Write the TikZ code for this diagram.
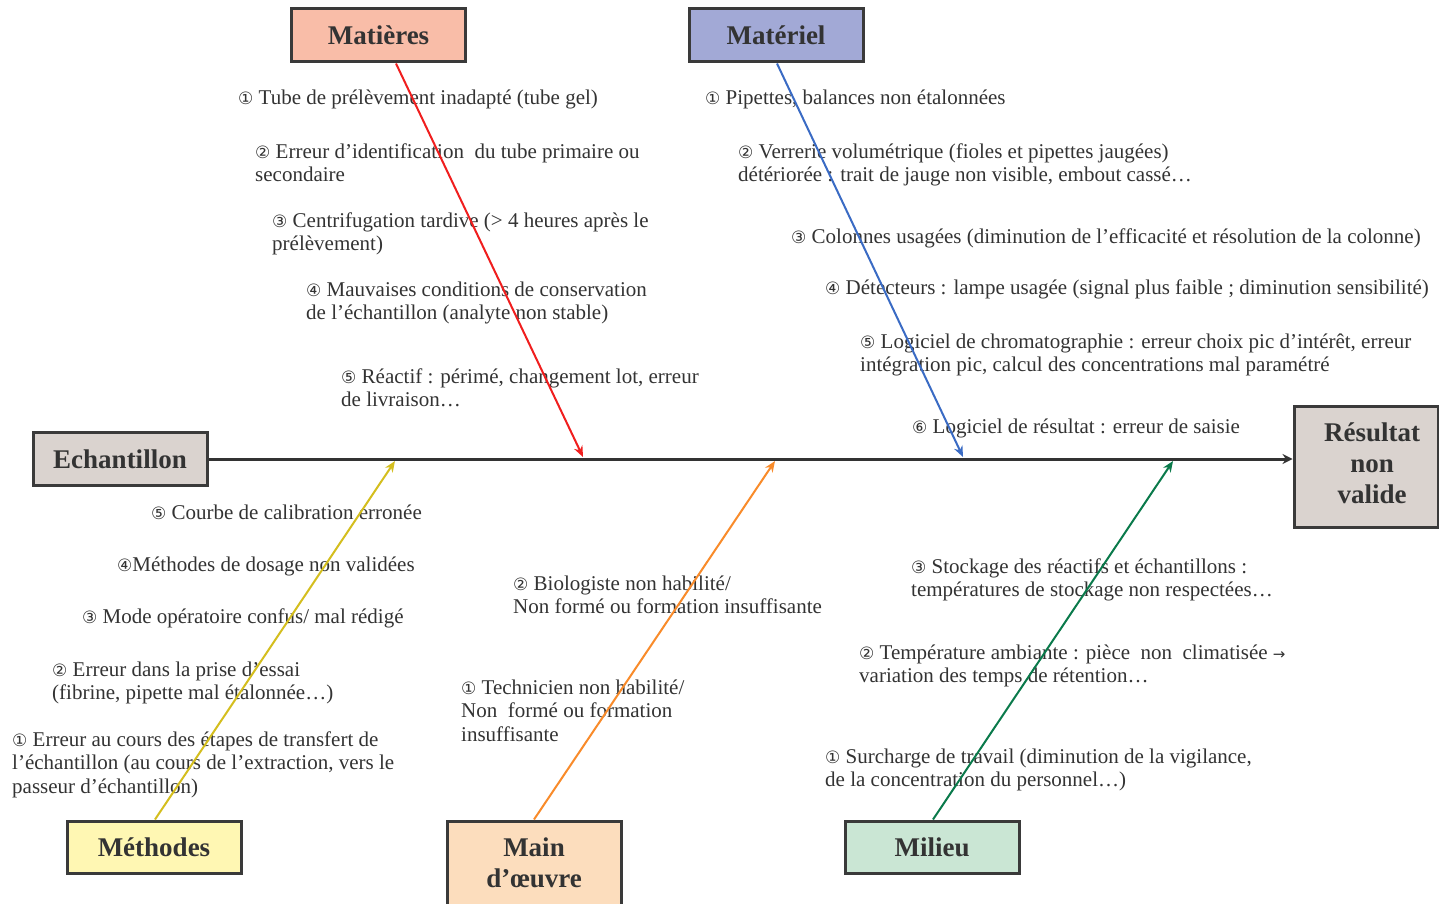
\documentclass[tikz,border=0pt]{standalone}
\usepackage{fontspec}
\setmainfont{Liberation Serif}
\newfontfamily\symf{DejaVu Sans}
\usetikzlibrary{arrows.meta}
\definecolor{txt}{HTML}{333333}
\definecolor{boxline}{HTML}{3A3A3A}
\definecolor{greyfill}{HTML}{DAD3CF}
\definecolor{matfill}{HTML}{F9BDA8}
\definecolor{matlfill}{HTML}{A2A9D6}
\definecolor{methfill}{HTML}{FFF7B3}
\definecolor{mofill}{HTML}{FCDDBD}
\definecolor{milfill}{HTML}{CAE6D4}
\definecolor{cred}{HTML}{F01E1E}
\definecolor{cblue}{HTML}{3A6BC4}
\definecolor{cyellow}{HTML}{D4BE1E}
\definecolor{corange}{HTML}{F98B2A}
\definecolor{cgreen}{HTML}{0A7A4B}
\newcommand{\ci}[1]{{\symf\fontsize{17}{17}\selectfont #1}}
\newcommand{\rarr}{{\symf\fontsize{15}{15}\selectfont →}}
\begin{document}
\begin{tikzpicture}[x=1pt,y=-1pt,
  box/.style={draw=boxline, line width=3pt, font=\fontsize{27}{31}\selectfont\bfseries,
    text=txt, align=center, inner sep=0pt, minimum width=174pt, minimum height=53pt},
  cause/.style={anchor=north west, inner sep=0pt, align=left, text=txt, yshift=-2pt,
    font=\fontsize{21}{23}\selectfont, execute at begin node=\strut},
  ml/.style={yshift=-4pt},
  bone/.style={line width=2pt, -{Stealth[length=11pt,width=9pt]}},
  spine/.style={draw=txt, line width=3pt, -{Stealth[length=10pt,width=10pt]}}]
\useasboundingbox[fill=white] (0,0) rectangle (1439,904);

% boxes
\node[box, fill=greyfill] (ech) at (120,459) {Echantillon};
\node[box, fill=greyfill, minimum width=144pt, minimum height=121pt] (res) at (1366,466.5)
  {\begin{tabular}{@{}c@{}}\hspace*{12pt}Résultat\\\hspace*{12pt}non\\\hspace*{12pt}valide\end{tabular}};
\node[box, fill=matfill] (mat) at (378.5,35.5) {Matières};
\node[box, fill=matlfill] (matl) at (776,35.5) {Matériel};
\node[box, fill=methfill, minimum height=52pt] (meth) at (154,847) {Méthodes};
\node[box, fill=mofill, minimum height=95pt] (mo) at (534,868.5)
  {\raisebox{3pt}[\height][\depth]{\begin{tabular}{@{}c@{}}Main\\d’œuvre\end{tabular}}};
\node[box, fill=milfill, minimum height=52pt] (mil) at (932,847) {Milieu};

% junctions on the spine
\coordinate (jr) at (583,457);
\coordinate (jb) at (963,457);
\coordinate (jy) at (395,461);
\coordinate (jo) at (775,461);
\coordinate (jg) at (1173,461);

% spine
\draw[spine] (ech.east) -- (ech.east -| res.west);

% causes - Matières
\node[cause] (c11) at (238,86) {\ci{①} Tube de prélèvement inadapté (tube gel)};
\node[cause, ml] (c12) at (255,138) {\ci{②} Erreur d’identification\ \ du tube primaire ou\\secondaire};
\node[cause, ml] (c13) at (272,207) {\ci{③} Centrifugation tardive (> 4 heures après le\\prélèvement)};
\node[cause, ml] (c14) at (306,276) {\ci{④} Mauvaises conditions de conservation\\de l’échantillon (analyte non stable)};
\node[cause, ml] (c15) at (341,363) {\ci{⑤} Réactif : périmé, changement lot, erreur\\de livraison…};

% causes - Matériel
\node[cause] (c21) at (705,86) {\ci{①} Pipettes, balances non étalonnées};
\node[cause, ml] (c22) at (738,138) {\ci{②} Verrerie volumétrique (fioles et pipettes jaugées)\\détériorée : trait de jauge non visible, embout cassé…};
\node[cause] (c23) at (791,225) {\ci{③} Colonnes usagées (diminution de l’efficacité et résolution de la colonne)};
\node[cause] (c24) at (825,276) {\ci{④} Détecteurs : lampe usagée (signal plus faible ; diminution sensibilité)};
\node[cause, ml] (c25) at (860,328) {\ci{⑤} Logiciel de chromatographie : erreur choix pic d’intérêt, erreur\\intégration pic, calcul des concentrations mal paramétré};
\node[cause] (c26) at (912,415) {\ci{⑥} Logiciel de résultat : erreur de saisie};

% causes - Méthodes
\node[cause] (c35) at (151,501) {\ci{⑤} Courbe de calibration erronée};
\node[cause] (c34) at (117,553) {\ci{④}Méthodes de dosage non validées};
\node[cause] (c33) at (82,605) {\ci{③} Mode opératoire confus/ mal rédigé};
\node[cause, ml] (c32) at (52,656) {\ci{②} Erreur dans la prise d’essai\\(fibrine, pipette mal étalonnée…)};
\node[cause, ml] (c31) at (12,726) {\ci{①} Erreur au cours des étapes de transfert de\\l’échantillon (au cours de l’extraction, vers le\\[1pt]passeur d’échantillon)};

% causes - Main d'oeuvre
\node[cause, ml] (c42) at (513,570) {\ci{②} Biologiste non habilité/\\Non formé ou formation insuffisante};
\node[cause, ml] (c41) at (461,674) {\ci{①} Technicien non habilité/\\Non\ \ formé ou formation\\[1pt]insuffisante};

% causes - Milieu
\node[cause, ml] (c53) at (911,553) {\ci{③} Stockage des réactifs et échantillons :\\températures de stockage non respectées…};
\node[cause, ml] (c52) at (859,639) {\ci{②} Température ambiante : pièce\ \ non\ \ climatisée \rarr\\variation des temps de rétention…};
\node[cause, ml] (c51) at (825,743) {\ci{①} Surcharge de travail (diminution de la vigilance,\\de la concentration du personnel…)};

% bones
\draw[bone, cred] ([xshift=17.5pt]mat.south) -- (jr);
\draw[bone, cblue] ([xshift=1pt]matl.south) -- (jb);
\draw[bone, cyellow] ([xshift=1pt]meth.north) -- (jy);
\draw[bone, corange] (mo.north) -- (jo);
\draw[bone, cgreen] ([xshift=1pt]mil.north) -- (jg);
\end{tikzpicture}
\end{document}
